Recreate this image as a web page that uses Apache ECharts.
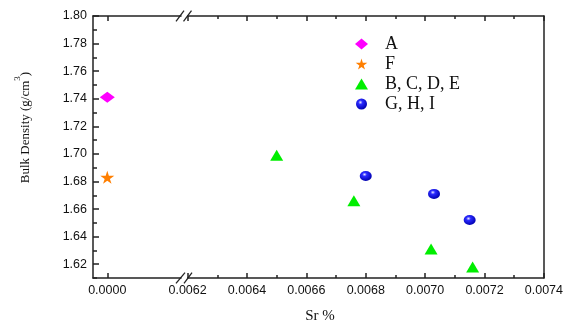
<!DOCTYPE html>
<html><head><meta charset="utf-8">
<script src="https://cdn.jsdelivr.net/npm/echarts@6/dist/echarts.min.js"></script>
<style>html,body{margin:0;padding:0;background:#fff}#c{width:566px;height:322px}</style>
</head><body><div id="c"></div>
<script>
// ---- data ----
const seriesNames = ['A', 'F', 'B, C, D, E', 'G, H, I'];
const seriesA = [[0, 1.741]];
const seriesF = [[0, 1.683]];
const seriesBCDE = [[0.0065, 1.699], [0.00676, 1.666], [0.00702, 1.631], [0.00716, 1.618]];
const seriesGHI = [[0.0068, 1.684], [0.00703, 1.671], [0.00715, 1.652]];
const xLeftTicks = [0];
const yMajorTicks = [1.62, 1.64, 1.66, 1.68, 1.70, 1.72, 1.74, 1.76, 1.78, 1.80];
const yMinorTicks = [1.61, 1.63, 1.65, 1.67, 1.69, 1.71, 1.73, 1.75, 1.77, 1.79];

const axisCol = '#222';
const lineStyle = { color: axisCol, width: 1.5 };
const labFont = { fontFamily: 'Liberation Sans, Arial', fontSize: 12.5, color: '#111' };
const serif = 'Liberation Serif, Times New Roman';

const starPath = 'path://M50,0 L61,35 L98,35 L68,57 L79,91 L50,70 L21,91 L32,57 L2,35 L39,35 Z';

const chart = echarts.init(document.getElementById('c'), null, { renderer: 'canvas' });
const yMin = 1.61, yMax = 1.80;

chart.setOption({
  animation: false,
  grid: [
    { left: 93, top: 16, width: 88, bottom: 44, containLabel: false },
    { left: 187.6, top: 16, right: 20, bottom: 44, containLabel: false }
  ],
  xAxis: [
    { type: 'value', gridIndex: 0, position: 'bottom', min: -0.00005, max: 0.000258,
      axisLine: { show: true, onZero: false, lineStyle }, splitLine: { show: false },
      axisTick: { show: true, inside: true, length: 5, customValues: xLeftTicks, lineStyle },
      axisLabel: { show: true, customValues: xLeftTicks, margin: 6, formatter: v => v.toFixed(4), ...labFont } },
    { type: 'value', gridIndex: 0, position: 'top', min: -0.00005, max: 0.000258,
      axisLine: { show: true, onZero: false, lineStyle }, splitLine: { show: false },
      axisTick: { show: true, inside: true, length: 5, customValues: xLeftTicks, lineStyle },
      axisLabel: { show: false } },
    { type: 'value', gridIndex: 1, position: 'bottom', min: 0.0062, max: 0.0074, interval: 0.0002,
      axisLine: { show: true, onZero: false, lineStyle }, splitLine: { show: false },
      axisTick: { show: true, inside: true, length: 5, lineStyle },
      minorTick: { show: true, splitNumber: 2, length: 3, lineStyle },
      axisLabel: { show: true, margin: 6, formatter: v => v.toFixed(4), ...labFont } },
    { type: 'value', gridIndex: 1, position: 'top', min: 0.0062, max: 0.0074, interval: 0.0002,
      axisLine: { show: true, onZero: false, lineStyle }, splitLine: { show: false },
      axisTick: { show: true, inside: true, length: 5, lineStyle },
      minorTick: { show: true, splitNumber: 2, length: 3, lineStyle },
      axisLabel: { show: false } }
  ],
  yAxis: [
    { type: 'value', gridIndex: 0, position: 'left', min: yMin, max: yMax,
      axisLine: { show: true, onZero: false, lineStyle }, splitLine: { show: false },
      axisTick: { show: true, inside: true, length: 6, customValues: yMajorTicks, lineStyle },
      axisLabel: { show: true, customValues: yMajorTicks, margin: 6, formatter: v => v.toFixed(2), ...labFont } },
    { type: 'value', gridIndex: 0, position: 'left', min: yMin, max: yMax,
      axisLine: { show: false, onZero: false }, splitLine: { show: false },
      axisTick: { show: true, inside: true, length: 4, customValues: yMinorTicks, lineStyle },
      axisLabel: { show: false } },
    { type: 'value', gridIndex: 1, position: 'right', min: yMin, max: yMax,
      axisLine: { show: true, onZero: false, lineStyle }, splitLine: { show: false },
      axisTick: { show: false }, axisLabel: { show: false } }
  ],
  legend: {
    orient: 'vertical', left: 350, top: 30, itemWidth: 13, itemHeight: 11, itemGap: 2,
    data: seriesNames,
    textStyle: { fontFamily: serif, fontSize: 18, color: '#111', padding: [0, 0, 0, 12] }
  },
  graphic: [
    { type: 'text', x: 320, y: 316, style: { text: 'Sr %', font: '15px ' + serif, fill: '#111', align: 'center', verticalAlign: 'middle' } },
    { type: 'text', x: 23, y: 127.5, rotation: Math.PI / 2,
      style: { text: '{n|Bulk Density (g/cm}{s|3}{n|)}', align: 'center', verticalAlign: 'middle',
        rich: { n: { fontFamily: serif, fontSize: 13, fill: '#111', lineHeight: 19, verticalAlign: 'bottom' },
                s: { fontFamily: serif, fontSize: 9, fill: '#111', lineHeight: 19, verticalAlign: 'top' } } } },
    { type: 'line', shape: { x1: 176, y1: 283.3, x2: 185, y2: 272.7 }, style: { stroke: axisCol, lineWidth: 1.3 } },
    { type: 'line', shape: { x1: 184, y1: 283.3, x2: 192, y2: 272.7 }, style: { stroke: axisCol, lineWidth: 1.3 } },
    { type: 'line', shape: { x1: 176, y1: 21.3, x2: 184, y2: 10.7 }, style: { stroke: axisCol, lineWidth: 1.3 } },
    { type: 'line', shape: { x1: 183.5, y1: 21.3, x2: 191.5, y2: 10.7 }, style: { stroke: axisCol, lineWidth: 1.3 } }
  ],
  series: [
    { name: seriesNames[0], type: 'scatter', xAxisIndex: 0, yAxisIndex: 0, data: seriesA,
      symbol: 'diamond', symbolSize: [15, 11], itemStyle: { color: '#ff00ff', opacity: 1 } },
    { name: seriesNames[1], type: 'scatter', xAxisIndex: 0, yAxisIndex: 0, data: seriesF,
      symbol: starPath, symbolSize: [14, 13], itemStyle: { color: '#ff7f00', opacity: 1 } },
    { name: seriesNames[2], type: 'scatter', xAxisIndex: 2, yAxisIndex: 2, data: seriesBCDE,
      symbol: 'triangle', symbolSize: [13, 11], itemStyle: { color: '#00ee00', opacity: 1 } },
    { name: seriesNames[3], type: 'scatter', xAxisIndex: 2, yAxisIndex: 2, data: seriesGHI,
      symbol: 'circle', symbolSize: [12, 10],
      itemStyle: { opacity: 1, color: { type: 'radial', x: 0.4, y: 0.35, r: 0.65,
        colorStops: [{ offset: 0, color: '#e8e8ff' }, { offset: 0.3, color: '#2a2aff' }, { offset: 1, color: '#0000b0' }] } } }
  ]
});
</script></body></html>
